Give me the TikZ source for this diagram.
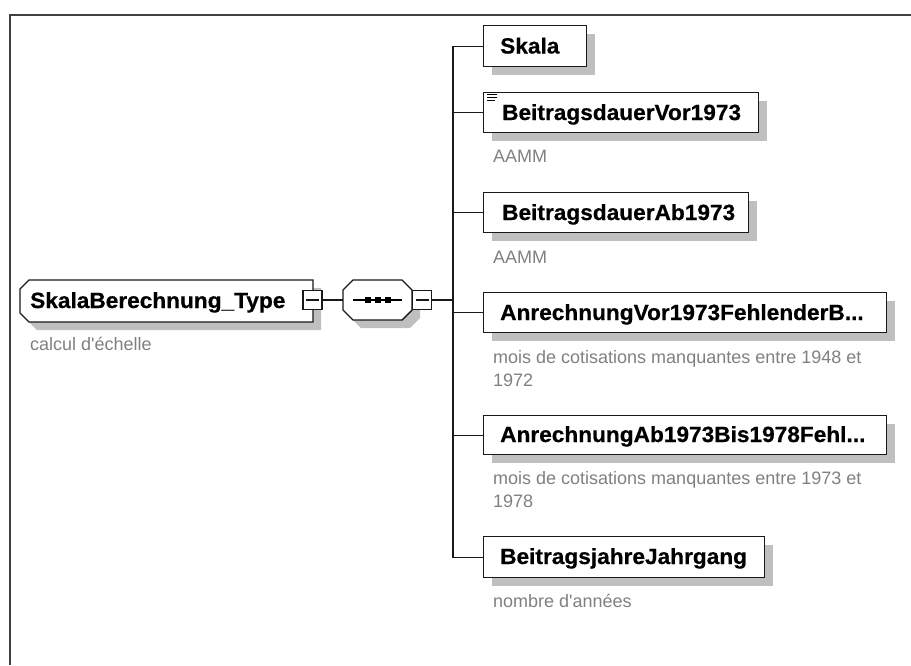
\documentclass[tikz,border=0pt]{standalone}
\usepackage{fontspec}
\setmainfont{Liberation Sans}
\newfontfamily\lblfont{Liberation Sans}[FakeStretch=1.03,FakeBold=0.6]
\newfontfamily\descfont{Liberation Sans}[Ligatures=ResetAll]
\usetikzlibrary{shadows}
\begin{document}
\begin{tikzpicture}[x=1pt,y=-1pt,
  myshadow/.style={drop shadow={shadow xshift=8pt,shadow yshift=-8pt,fill=black!25,opacity=1}},
  elem/.style={draw=black!90, line width=1.4pt, fill=white, inner sep=0pt, anchor=north west, myshadow},
  shapeline/.style={draw=black!90, line width=1.4pt, fill=white},
  shadowfill/.style={fill=black!25},
  lbl/.style={font=\lblfont\fontsize{22}{26}\selectfont\bfseries, anchor=base west, inner sep=0pt},
  desc/.style={font=\descfont\fontsize{18}{23}\selectfont, text=black!50, anchor=base west, inner sep=0pt},
  minus/.style={draw=black!90, fill=white, line width=1.2pt, minimum size=19pt, inner sep=0pt,
    path picture={\draw[line width=1.2pt] ([xshift=3pt]path picture bounding box.west) -- ([xshift=-3pt]path picture bounding box.east);}},
  conn/.style={draw=black!90, line width=1.4pt}]
\useasboundingbox (0,0) rectangle (911,665);
% frame
\draw[line width=2pt, draw=black!75] (10,665) -- (10,15) -- (911,15);

% root (chamfered on the left)
\path[shadowfill] (37,288) -- (321,288) -- (321,330) -- (37,330) -- (28,321) -- (28,297) -- cycle;
\path[shapeline] (29,280) -- (313,280) -- (313,322) -- (29,322) -- (20,313) -- (20,289) -- cycle;
\coordinate (root) at (313,301);
\node[lbl] (roott) at (30,308) {SkalaBerechnung\_Type};
\node[desc] (rootd) at (30,350) {calcul d'échelle};
\node[minus] (rm) at (312.5,300) {};

% sequence compositor
\path[shadowfill] (361,288) -- (410,288) -- (420,298) -- (420,318) -- (410,328) -- (361,328) -- (351,318) -- (351,298) -- cycle;
\path[shapeline] (353,280) -- (402,280) -- (412,290) -- (412,310) -- (402,320) -- (353,320) -- (343,310) -- (343,290) -- cycle;
\coordinate (seqW) at (343,300);
\coordinate (seqC) at (377.5,300);
\draw[line width=1.2pt] (353,300) -- (402,300);
\foreach \xx in {-10,0,10}{
  \fill ([xshift=\xx pt]seqC) ++(-3,-3) rectangle ++(6,6);
}
\node[minus] (sm) at (422,300) {};
\draw[conn] (rm.east) -- (seqW);

% children
\node[elem, minimum width=103pt, minimum height=41pt] (c1) at (483,25) {};
\node[lbl] (c1t) at (500,53.5) {Skala};

\node[elem, minimum width=275pt, minimum height=40pt] (c2) at (483,92) {};
\node[lbl] (c2t) at (502,120) {BeitragsdauerVor1973};
\draw[line width=1pt] (487,94) -- (497,94) (487,97) -- (497,97) (487,100) -- (495,100);
\node[desc] (c2d) at (493,162) {AAMM};

\node[elem, minimum width=265pt, minimum height=40pt] (c3) at (483,192) {};
\node[lbl] (c3t) at (502,220) {BeitragsdauerAb1973};
\node[desc] (c3d) at (493,263) {AAMM};

\node[elem, minimum width=403pt, minimum height=40pt] (c4) at (483,292) {};
\node[lbl] (c4t) at (500,320) {AnrechnungVor1973FehlenderB...};
\node[desc] (c4d) at (493,363) {mois de cotisations manquantes entre 1948 et};
\node[desc] (c4e) at (493,386) {1972};

\node[elem, minimum width=403pt, minimum height=39pt] (c5) at (483,415) {};
\node[lbl] (c5t) at (500,442) {AnrechnungAb1973Bis1978Fehl...};
\node[desc] (c5d) at (493,484) {mois de cotisations manquantes entre 1973 et};
\node[desc] (c5e) at (493,507) {1978};

\node[elem, minimum width=281pt, minimum height=41pt] (c6) at (483,536) {};
\node[lbl] (c6t) at (500,564) {BeitragsjahreJahrgang};
\node[desc] (c6d) at (493,607) {nombre d'années};

% bus connectors
\coordinate (bus) at (453,300);
\draw[conn] (sm.east) -- (bus);
\foreach \c in {c1,c2,c3,c4,c5,c6}{
  \draw[conn] (bus) |- (\c.west);
}
\end{tikzpicture}
\end{document}
